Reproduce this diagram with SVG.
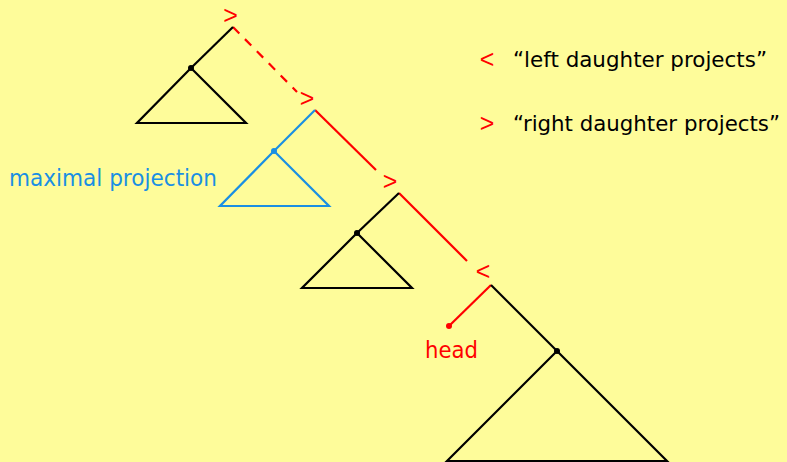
<svg xmlns="http://www.w3.org/2000/svg" width="787" height="462" viewBox="0 0 787 462">
<style>
.bg{fill:#fefc9a}
.k{stroke:#000;stroke-width:2.2;fill:none;stroke-linejoin:miter}
.b{stroke:#1a8fe3;stroke-width:2.2;fill:none}
.r{stroke:#ff0000;stroke-width:2.2;fill:none}
.dash{stroke-dasharray:9 8}
.mark{font-family:"Liberation Sans",Arial,sans-serif;font-size:25px;fill:#ff0000;text-anchor:middle}
.t{font-family:"DejaVu Sans",sans-serif;font-size:21.5px;fill:#000}
.lbl{font-family:"DejaVu Sans",sans-serif;font-size:22.5px}
</style>
<rect class="bg" x="0" y="0" width="787" height="462"/>
<g id="connectors">
<line class="r dash" x1="233" y1="27" x2="297" y2="92"/>
<line class="r" x1="315" y1="110" x2="376" y2="170"/>
<line class="r" x1="399" y1="193" x2="467" y2="261"/>
<line class="r" x1="491" y1="285" x2="449" y2="326"/>
<line class="k" x1="233" y1="27" x2="191" y2="68"/>
<line class="b" x1="315" y1="110" x2="274" y2="151"/>
<line class="k" x1="399" y1="193" x2="357" y2="233"/>
<line class="k" x1="491" y1="285" x2="557" y2="351"/>
</g>
<g id="node1">
<polygon class="k" points="191,68 137,123 246,123"/>
<circle cx="191" cy="68" r="3" fill="#000"/>
<text class="mark" x="230.5" y="23.5">&gt;</text>
</g>
<g id="node2">
<polygon class="b" points="274,151 220,206 329,206"/>
<circle cx="274" cy="151" r="3" fill="#1a8fe3"/>
<text class="mark" x="307" y="106.5">&gt;</text>
<text class="lbl" x="9" y="186" fill="#1a8fe3" textLength="208" lengthAdjust="spacingAndGlyphs">maximal projection</text>
</g>
<g id="node3">
<polygon class="k" points="357,233 302,288 412,288"/>
<circle cx="357" cy="233" r="3" fill="#000"/>
<text class="mark" x="390" y="189.5">&gt;</text>
</g>
<g id="node4">
<polygon class="k" points="557,351 447,461 667,461"/>
<circle cx="557" cy="351" r="3" fill="#000"/>
<text class="mark" x="483" y="279.5">&lt;</text>
</g>
<g id="head">
<circle cx="449" cy="326" r="3" fill="#ff0000"/>
<text class="lbl" x="425" y="358" fill="#ff0000" textLength="53" lengthAdjust="spacingAndGlyphs">head</text>
</g>
<g id="legend">
<text class="mark" x="487" y="67.5">&lt;</text>
<text class="t" x="513" y="67" textLength="254" lengthAdjust="spacingAndGlyphs">“left daughter projects”</text>
<text class="mark" x="487" y="131.5">&gt;</text>
<text class="t" x="513" y="131" textLength="267" lengthAdjust="spacingAndGlyphs">“right daughter projects”</text>
</g>
</svg>
